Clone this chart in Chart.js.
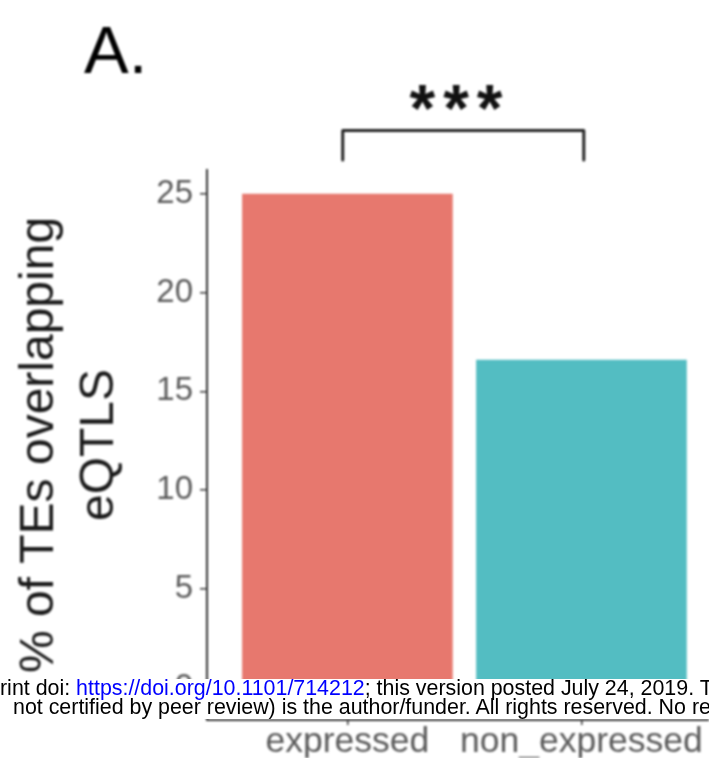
<!DOCTYPE html>
<html>
<head>
<meta charset="utf-8">
<script src="https://cdn.jsdelivr.net/npm/chart.js@4.4.1/dist/chart.umd.min.js"></script>
<style>
  html, body { margin: 0; padding: 0; background: #fff; overflow: hidden; }
  #wrap { position: relative; width: 709px; height: 758px; overflow: hidden; }
  #chart { position: absolute; left: 0; top: 0; filter: blur(0.8px); }
  .band { position: absolute; left: 0; top: 679px; width: 709px; height: 40px; background: #fff; }
  .note { position: absolute; white-space: nowrap; font: 21.4px "Liberation Sans", Arial, sans-serif; color: #000; line-height: 21px; }
  .note .lnk { color: #0000ff; }
</style>
</head>
<body>
<div id="wrap">
  <canvas id="chart" width="709" height="758"></canvas>
  <div class="band"></div>
  <div class="note" style="left:0px; top:678px;">rint doi: <span class="lnk">https://doi.org/10.1101/714212</span>; this version posted July 24, 2019. T</div>
  <div class="note" style="left:13px; top:697px;">not certified by peer review) is the author/funder. All rights reserved. No re</div>
</div>
<script>
// Share of transposable elements overlapping eQTLs, by expression status
const categories = ['expressed', 'non_expressed'];
const pctOverlap = [25.0, 16.6];
const barColors = ['#E7786E', '#53BDC2'];
const yTicks = [0, 5, 10, 15, 20, 25];
const yTitle = ['% of TEs overlapping', 'eQTLS'];
const panelLabel = 'A.';
const sigLabel = '***';

// significance bracket between the two groups (data units)
const bracket = { from: 0.98, to: 2.01, top: 28.2, leg: 26.7, textX: 1.464, textY: 28.18 };

const FONT = '"Liberation Sans", Arial, Helvetica, sans-serif';

const annotate = {
  id: 'annotate',
  afterDraw(chart) {
    const { ctx, scales: { x, y } } = chart;
    ctx.save();
    // panel tag
    ctx.fillStyle = '#000';
    ctx.font = '67px ' + FONT;
    ctx.textAlign = 'left';
    ctx.textBaseline = 'alphabetic';
    ctx.fillText(panelLabel, 84, 73);

    // bracket
    const x0 = x.getPixelForValue(bracket.from);
    const x1 = x.getPixelForValue(bracket.to);
    const yt = y.getPixelForValue(bracket.top);
    const yl = y.getPixelForValue(bracket.leg);
    ctx.strokeStyle = '#222';
    ctx.lineWidth = 3;
    ctx.lineJoin = 'round';
    ctx.lineCap = 'round';
    ctx.beginPath();
    ctx.moveTo(x0, yl);
    ctx.lineTo(x0, yt);
    ctx.lineTo(x1, yt);
    ctx.lineTo(x1, yl);
    ctx.stroke();

    // significance stars
    ctx.font = 'bold 66px ' + FONT;
    ctx.letterSpacing = '8px';
    ctx.textAlign = 'center';
    ctx.fillStyle = '#111';
    ctx.fillText(sigLabel, x.getPixelForValue(bracket.textX) + 4, y.getPixelForValue(bracket.textY));
    ctx.restore();
  }
};

new Chart(document.getElementById('chart'), {
  type: 'bar',
  data: {
    datasets: [{
      data: pctOverlap.map((v, i) => ({ x: i + 1, y: v })),
      backgroundColor: barColors,
      borderWidth: 0,
      barPercentage: 0.9,
      categoryPercentage: 1.0
    }]
  },
  options: {
    responsive: false,
    animation: false,
    layout: { padding: { top: 170, left: 0, right: 0, bottom: 0 } },
    plugins: { legend: { display: false }, tooltip: { enabled: false } },
    scales: {
      x: {
        type: 'linear',
        min: 0.4,
        max: 2.545,
        offset: false,
        afterBuildTicks: s => { s.ticks = categories.map((c, i) => ({ value: i + 1 })); },
        afterFit: s => { s.height = 38; },
        ticks: {
          callback: v => categories[v - 1],
          font: { family: FONT, size: 35.5, lineHeight: 1 },
          color: '#5a5a5a',
          padding: -1,
          maxRotation: 0,
          autoSkip: false
        },
        grid: { display: true, drawOnChartArea: false, drawTicks: true, tickLength: 5, color: '#333', lineWidth: 1.5, offset: false },
        border: { display: true, color: '#333', width: 2 }
      },
      y: {
        type: 'linear',
        min: -1.64,
        max: 26.2,
        afterBuildTicks: s => { s.ticks = yTicks.map(v => ({ value: v })); },
        afterFit: s => { s.width = 207; },
        ticks: {
          font: { family: FONT, size: 33, lineHeight: 1 },
          color: '#5a5a5a',
          padding: 7
        },
        grid: { display: true, drawOnChartArea: false, drawTicks: true, tickLength: 7, color: '#333', lineWidth: 1.5 },
        border: { display: true, color: '#333', width: 2 },
        title: {
          display: true,
          text: yTitle,
          font: { family: FONT, size: 48, lineHeight: 1.25 },
          color: '#1a1a1a',
          padding: { top: 10, bottom: 0 }
        }
      }
    }
  },
  plugins: [annotate]
});
</script>
</body>
</html>
